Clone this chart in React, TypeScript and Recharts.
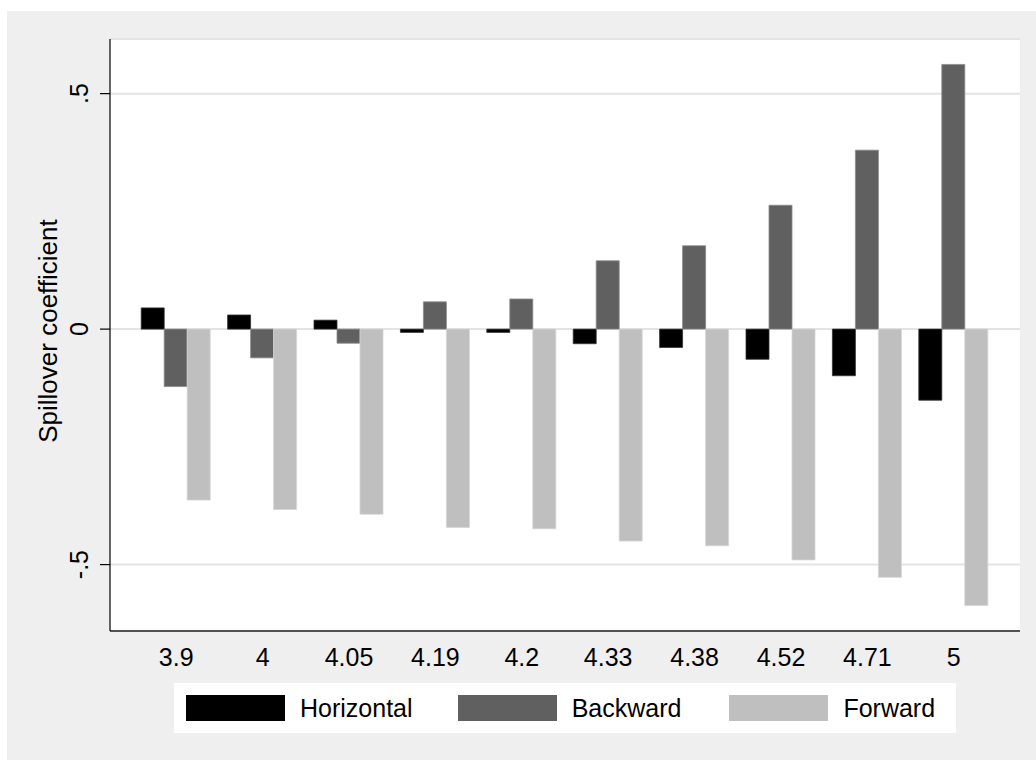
import React from 'react';
import { BarChart, Bar, XAxis, YAxis, CartesianGrid, Legend } from 'recharts';

const categories = ['3.9', '4', '4.05', '4.19', '4.2', '4.33', '4.38', '4.52', '4.71', '5'];
const horizontal = [0.045, 0.030, 0.019, -0.007, -0.007, -0.031, -0.039, -0.064, -0.099, -0.151];
const backward = [-0.122, -0.061, -0.030, 0.058, 0.064, 0.145, 0.177, 0.263, 0.380, 0.562];
const forward = [-0.363, -0.383, -0.393, -0.421, -0.424, -0.450, -0.460, -0.490, -0.527, -0.587];
const yTicks = [-0.5, 0, 0.5];
const yTickLabels = ['-.5', '0', '.5'];
const seriesNames = ['Horizontal', 'Backward', 'Forward'];
const seriesColors = ['#000000', '#606060', '#bfbfbf'];
const yTitle = 'Spillover coefficient';

const data = categories.map((c, i) => ({
  cat: c,
  horizontal: horizontal[i],
  backward: backward[i],
  forward: forward[i],
}));

const FONT = 'Arial, "Liberation Sans", sans-serif';

const YTick = (props: any) => {
  const { x, y, payload } = props;
  const idx = yTicks.indexOf(payload.value);
  const label = idx >= 0 ? yTickLabels[idx] : String(payload.value);
  return (
    <text
      x={x}
      y={y}
      transform={`rotate(-90, ${x}, ${y})`}
      textAnchor="middle"
      fontSize={25}
      fill="#000"
      fontFamily={FONT}
    >
      {label}
    </text>
  );
};

const YLabel = (props: any) => {
  const vb = props.viewBox || { x: 0, y: 28, width: 103, height: 592 };
  const cx = vb.x + 50;
  const cy = vb.y + vb.height / 2 - 4;
  return (
    <text
      x={cx}
      y={cy}
      transform={`rotate(-90, ${cx}, ${cy})`}
      textAnchor="middle"
      fontSize={26}
      fill="#000"
      fontFamily={FONT}
    >
      {yTitle}
    </text>
  );
};

const LegendContent = () => (
  <div style={{ width: 782, height: 50, background: '#fff', position: 'relative', fontFamily: FONT }}>
    {seriesNames.map((name, i) => (
      <div
        key={name}
        style={{
          position: 'absolute',
          left: 12 + i * 271.7,
          top: 12,
          height: 26,
          display: 'flex',
          alignItems: 'center',
          whiteSpace: 'nowrap',
        }}
      >
        <div style={{ width: 99, height: 26, background: seriesColors[i] }} />
        <span style={{ marginLeft: 15, fontSize: 25, color: '#000', lineHeight: '26px' }}>{name}</span>
      </div>
    ))}
  </div>
);

export default function App() {
  return (
    <div
      style={{
        position: 'absolute',
        left: 7,
        top: 11,
        width: 1029,
        height: 749,
        background: '#efefef',
      }}
    >
      <BarChart
        width={1029}
        height={749}
        data={data}
        margin={{ top: 28, right: 16, left: 0, bottom: 0 }}
        barCategoryGap="9.5%"
        barGap={0}
        style={{ fontFamily: FONT }}
      >
        <CartesianGrid vertical={false} stroke="#e4e4e4" strokeWidth={2} fill="#ffffff" />
        <XAxis
          dataKey="cat"
          height={129}
          tickLine={false}
          axisLine={{ stroke: '#222', strokeWidth: 1.5 }}
          tickSize={10}
          tickMargin={7}
          padding={{ left: 23, right: 23 }}
          interval={0}
          tick={{ fill: '#000', fontSize: 25, fontFamily: FONT }}
        />
        <YAxis
          type="number"
          width={103}
          domain={[-0.641, 0.616]}
          allowDataOverflow
          ticks={yTicks}
          tickSize={10}
          tickMargin={12}
          tick={<YTick />}
          axisLine={{ stroke: '#000', strokeWidth: 1.2 }}
          tickLine={{ stroke: '#000', strokeWidth: 1.2 }}
          label={<YLabel />}
        />
        <Bar dataKey="horizontal" name={seriesNames[0]} fill={seriesColors[0]} stroke="#333" strokeWidth={0.8} isAnimationActive={false} />
        <Bar dataKey="backward" name={seriesNames[1]} fill={seriesColors[1]} stroke="#8a8a8a" strokeWidth={0.8} isAnimationActive={false} />
        <Bar dataKey="forward" name={seriesNames[2]} fill={seriesColors[2]} stroke="#d4d4d4" strokeWidth={0.8} isAnimationActive={false} />
        <Legend
          layout="horizontal"
          verticalAlign="middle"
          align="center"
          content={<LegendContent />}
          wrapperStyle={{ left: 167, top: 672, width: 782, height: 50 }}
        />
      </BarChart>
    </div>
  );
}
